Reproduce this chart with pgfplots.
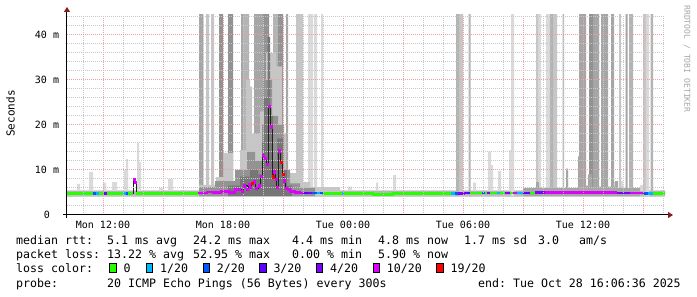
\documentclass[border=0pt]{standalone}
\usepackage{pgfplots}
\pgfplotsset{compat=1.18}
\usepackage{fontspec}
\setmonofont{DejaVu Sans Mono}
\usetikzlibrary{arrows.meta}
\definecolor{majgrid}{HTML}{F0A0A0}
\definecolor{mingrid}{HTML}{C8C8C8}
\definecolor{arrowred}{HTML}{8B1A1A}
\definecolor{ga}{HTML}{DADADA}
\definecolor{gb}{HTML}{C6C6C6}
\definecolor{gc}{HTML}{B4B4B4}
\definecolor{gd}{HTML}{A6A6A6}
\definecolor{ge}{HTML}{939393}
\definecolor{gf}{HTML}{767676}
\definecolor{lc0}{HTML}{26FF00}
\definecolor{lc1}{HTML}{00B8FF}
\definecolor{lc2}{HTML}{0059FF}
\definecolor{lc3}{HTML}{5E00FF}
\definecolor{lc4}{HTML}{7E00FF}
\definecolor{lc10}{HTML}{DD00FF}
\definecolor{lc19}{HTML}{FF0000}
\newcommand{\tickfont}{\ttfamily\fontsize{10}{12}\selectfont}
\newcommand{\lgfont}{\ttfamily\fontsize{11.6}{13}\selectfont}
\begin{document}
\begin{tikzpicture}[x=1pt,y=1pt]
\fill[white] (0,0) rectangle (697,297);
\path[use as bounding box] (0,0) rectangle (697,297);
\begin{axis}[
 at={(67pt,82pt)}, anchor=south west, scale only axis, width=598pt, height=200pt,
 xmin=10.2, xmax=40.1, ymin=0, ymax=44.444,
 axis on top, unbounded coords=jump,
 axis lines*=left,
 axis line style={black, line width=1pt},
 x axis line style={shorten <=-4pt, shorten >=-8pt, -{Triangle[length=5pt,width=6pt,color=arrowred]}},
 y axis line style={shorten <=-3pt, shorten >=-8pt, -{Triangle[length=5pt,width=6pt,color=arrowred]}},
 xtick={12,15,...,39}, xticklabels={Mon 12:00,,Mon 18:00,,Tue 00:00,,Tue 06:00,,Tue 12:00,},
 minor xtick={11,...,40},
 ytick={0,10,20,30,40}, yticklabels={0,10 m,20 m,30 m,40 m},
 minor ytick={2,4,...,44},
 grid=both,
 major grid style={draw=majgrid, dash pattern=on 1pt off 1pt, line width=1pt},
 minor grid style={draw=mingrid, dash pattern=on 1pt off 1pt, line width=1pt},
 major tick length=0pt, minor tick length=0pt,
 xticklabel style={font=\tickfont, anchor=center, yshift=-10pt},
 yticklabel style={font=\tickfont, anchor=center, xshift=-20pt},
]
% light smoke band with spikes
\addplot[const plot, draw=none, fill=ga] coordinates {(10.2,4.2)(10.2,5.6)(10.7,6.9)(10.85,5.6)(11.3,9.6)(11.5,5.6)(12.0,7.2)(12.15,5.6)(12.45,7.3)(12.7,5.6)(13.05,10)(13.15,12.4)(13.25,5.6)(13.7,16)(13.8,11.8)(13.9,5.6)(14.8,6.0)(15.0,5.6)(15.25,8.0)(15.5,5.6)(24.25,6.3)(24.45,5.6)(25.65,7.2)(25.75,5.6)(26.5,8.9)(26.65,5.6)(30.5,7.2)(30.65,5.6)(31.25,14.1)(31.4,11.1)(31.5,5.6)(31.75,9.8)(31.9,5.6)(32.3,14.4)(32.5,5.6)(35.15,10.4)(35.25,5.6)(36.95,10)(37.05,5.6)(37.55,7.3)(37.7,5.6)(37.9,7.6)(38.0,5.6)(38.85,6.7)(39.0,5.6)(40.1,5.6)(40.1,4.2)};
\addplot[const plot, draw=none, fill=gc] coordinates {(10.2,4.3)(10.2,5.3)(40.1,5.3)(40.1,4.3)};
% tall smoke bars
\addplot[const plot, draw=none, fill=ga] coordinates {(10.2,4.2)(22.25,50)(22.5,4.2)(22.55,50)(22.7,4.2)(22.9,50)(23.0,4.2)(32.4,50)(32.55,4.2)(33.75,50)(33.9,4.2)(34.15,50)(34.35,4.2)(39.15,50)(39.3,4.2)(40.1,4.2)};
\addplot[const plot, draw=none, fill=gb] coordinates {(10.2,4.2)(17.15,50)(17.3,4.2)(17.4,50)(17.55,4.2)(21.65,50)(22.0,4.2)(29.8,50)(30.0,4.2)(33.65,50)(33.75,4.2)(34.5,50)(34.7,4.2)(37.8,50)(37.9,4.2)(39.0,50)(39.15,4.2)(40.1,4.2)};
\addplot[const plot, draw=none, fill=gc] coordinates {(10.2,4.2)(19.0,50)(19.3,4.2)(20.5,50)(20.75,4.2)(29.65,50)(29.8,4.2)(30.285,50)(30.385,4.2)(34.35,50)(34.5,4.2)(34.985,50)(35.05,4.2)(38.3,50)(38.5,4.2)(39.385,50)(39.5,4.2)(40.1,4.2)};
\addplot[const plot, draw=none, fill=gd] coordinates {(10.2,4.2)(16.8,50)(17.015,4.2)(18.9,50)(19.0,4.2)(19.55,50)(20.0,4.2)(21.15,50)(21.25,4.2)(35.8,50)(36.15,4.2)(36.5,50)(36.8,4.2)(36.9,50)(37.25,4.2)(37.4,50)(37.55,4.2)(38.135,50)(38.235,4.2)(40.1,4.2)};
\addplot[const plot, draw=none, fill=ge] coordinates {(10.2,4.2)(17.8,50)(18.0,4.2)(18.25,50)(18.5,4.2)(20.0,50)(20.3,4.2)(20.75,50)(21.0,4.2)(36.3,50)(36.5,4.2)(40.1,4.2)};
% darker smoke Tue afternoon
\addplot[const plot, draw=none, fill=gd] coordinates {(33.0,4.2)(33.0,6.0)(33.65,7.3)(33.8,6.0)(35.15,10)(35.25,6.0)(35.75,13)(36.0,6.5)(36.25,9)(36.45,6.3)(36.95,7.8)(37.1,6.3)(37.6,7.5)(37.75,6.0)(38.85,4.2)};
% Monday evening smoke cluster
\addplot[const plot, draw=none, fill=gb] coordinates {(16.8,4.2)(16.8,6.7)(17.65,8.4)(18.0,13.8)(18.5,7.2)(18.85,14.4)(19.15,30)(19.35,28.5)(19.45,18)(19.85,23)(20.15,36)(20.35,36)(20.65,33)(20.95,18)(21.15,9.3)(21.65,7.3)(22.35,6.2)(23.85,4.2)};
\addplot[const plot, draw=none, fill=ge] coordinates {(16.8,4.2)(16.8,6.2)(17.6,7.5)(18.6,10)(19.2,14)(19.6,12)(19.95,20)(20.15,30)(20.45,22)(20.75,20)(21.05,10)(21.35,7)(21.85,6)(22.6,4.2)};
\addplot[const plot, draw=none, fill=gf] coordinates {(18.25,4.2)(18.25,6.5)(18.85,8.5)(19.35,10)(19.75,9)(19.95,16)(20.05,26)(20.225,39.6)(20.35,22)(20.5,12)(20.7,17)(21.0,10)(21.2,6.5)(21.45,4.2)};
% median rtt (thin dark line)
\addplot[const plot, draw={rgb,255:red,32;green,32;blue,32}, line width=0.8pt] coordinates {(10.2,4.8)(11.0,4.85)(12.0,4.8)(13.5,8.0)(13.575,7.2)(13.65,4.8)(15.0,4.75)(16.75,4.9)(17.2,5.1)(17.5,5.0)(17.9,5.3)(18.3,5.0)(18.6,5.6)(18.9,5.2)(19.0,6.5)(19.2,5.8)(19.25,6.8)(19.35,6.2)(19.4,7.0)(19.5,7.4)(19.6,6.0)(19.75,6.5)(19.85,8.7)(19.95,13.3)(20.05,12.7)(20.15,11.3)(20.25,24.2)(20.35,19.6)(20.45,8.5)(20.525,9.6)(20.6,8.0)(20.675,6.2)(20.75,14.3)(20.85,11.7)(20.95,9.1)(21.025,7.6)(21.1,6.0)(21.2,5.6)(21.35,5.2)(21.6,5.0)(21.85,4.9)(23.0,4.8)(25.5,4.6)(26.5,4.7)(29.4,4.8)(30.0,4.9)(34.0,5.0)(37.7,4.9)(39.0,4.8)(40.1,4.8)};
% loss-coloured median band
\addplot[const plot, draw=lc0, line width=2.8pt] coordinates {(10.2,4.8)(11.0,4.85)(12.0,4.8)(13.5,4.8)(13.5,nan)(13.65,4.8)(15.0,4.75)(16.75,4.75)(16.75,nan)(21.85,4.9)(23.0,4.8)(25.5,4.6)(26.5,4.7)(29.4,4.8)(30.0,4.9)(34.0,5.0)(37.7,4.9)(39.0,4.8)(40.1,4.8)};
\addplot[const plot, draw=lc1, line width=2.8pt] coordinates {(11.65,4.85)(11.8,4.85)(11.8,nan)(13.0,4.8)(13.15,4.8)(13.15,nan)(22.7,4.9)(22.85,4.9)(22.85,nan)(23.95,4.8)(24.03,4.8)(24.03,nan)(29.4,4.8)(29.6,4.8)(29.6,nan)(31.7,4.9)(31.85,4.9)(31.85,nan)(32.7,4.9)(33.0,4.9)(33.0,nan)(39.25,4.8)(39.5,4.8)};
\addplot[const plot, draw=lc2, line width=2.8pt] coordinates {(11.5,4.85)(11.65,4.85)(11.65,nan)(13.15,4.8)(13.25,4.8)(13.25,nan)(22.45,4.9)(22.7,4.9)(22.7,nan)(22.85,4.9)(23.0,4.9)(23.0,nan)(29.6,4.8)(29.75,4.8)(29.75,nan)(30.95,4.9)(31.1,4.9)(31.1,nan)(39.0,4.8)(39.25,4.8)};
\addplot[const plot, draw=lc3, line width=2.8pt] coordinates {(12.05,4.8)(12.1,4.8)(12.1,nan)(22.0,4.9)(22.25,4.9)(22.25,nan)(30.1,4.9)(30.35,4.9)(30.35,nan)(33.0,4.9)(33.35,4.9)};
\addplot[const plot, draw=lc4, line width=2.8pt] coordinates {(12.1,4.8)(12.2,4.8)(12.2,nan)(22.25,4.9)(22.45,4.9)(22.45,nan)(29.75,4.85)(30.1,4.85)(30.1,nan)(31.2,4.9)(31.35,4.9)(31.35,nan)(32.1,4.9)(32.35,4.9)(32.35,nan)(33.6,5.0)(34.1,5.0)(34.1,nan)(37.7,4.9)(38.35,4.9)};
\addplot[const plot, draw=lc10, line width=2.8pt] coordinates {(16.75,4.9)(17.2,5.1)(17.5,5.0)(17.9,5.3)(18.3,5.0)(18.6,5.6)(18.9,5.6)(18.9,nan)(21.2,5.6)(21.35,5.2)(21.6,5.0)(21.85,4.9)(22.0,4.9)(22.0,nan)(32.5,4.9)(32.7,4.9)(32.7,nan)(34.1,5.0)(37.7,5.0)(37.7,nan)(38.35,4.9)(39.0,4.9)};
\addplot[only marks, mark=square*, mark size=1.1pt, color=lc10] coordinates {(13.54,8.0)(13.61,7.2)(18.94,5.2)(19.04,6.5)(19.22,5.8)(19.29,6.8)(19.37,6.2)(19.54,7.4)(19.64,6.0)(19.79,6.5)(19.89,8.7)(19.99,13.3)(20.09,12.7)(20.19,11.3)(20.29,24.2)(20.39,19.6)(20.56,9.6)(20.64,8.0)(20.71,6.2)(20.79,14.3)(21.06,7.6)(21.14,6.0)};
\addplot[only marks, mark=square*, mark size=1.1pt, color=lc19] coordinates {(19.44,7.0)(20.49,8.5)(20.89,11.7)(20.99,9.1)};
\end{axis}
% axis title and watermark
\node[rotate=90, font=\ttfamily\fontsize{11}{13}\selectfont] at (10.5,183.5) {Seconds};
\node[rotate=-90, font=\ttfamily\fontsize{8.1}{10}\selectfont, text=black!35] at (687,238) {RRDTOOL / TOBI OETIKER};
% legend
\begin{scope}[every node/.style={anchor=base west, inner sep=0pt, font=\lgfont}]
\node at (16,52.3) {median rtt:};
\node at (107,52.3) {5.1 ms avg};
\node at (193,52.3) {24.2 ms max};
\node at (292,52.3) {4.4 ms min};
\node at (378,52.3) {4.8 ms now};
\node at (464,52.3) {1.7 ms sd};
\node at (538,52.3) {3.0};
\node at (579,52.3) {am/s};
\node at (16,38.1) {packet loss:};
\node at (107,38.1) {13.22 \% avg};
\node at (193,38.1) {52.95 \% max};
\node at (292,38.1) {0.00 \% min};
\node at (378,38.1) {5.90 \% now};
\node at (16,24) {loss color:};
\node at (123.3,24) {0};
\node at (160,24) {1/20};
\node at (216.7,24) {2/20};
\node at (273.3,24) {3/20};
\node at (330,24) {4/20};
\node at (386.7,24) {10/20};
\node at (450.4,24) {19/20};
\node at (16,9.7) {probe:};
\node at (107,9.7) {20 ICMP Echo Pings (56 Bytes) every 300s};
\node at (478,9.7) {end: Tue Oct 28 16:06:36 2025};
\end{scope}
\foreach \xx/\cc in {109.3/lc0,146/lc1,202.7/lc2,259.3/lc3,316/lc4,372.7/lc10,436.4/lc19}
  \draw[black, line width=1pt, fill=\cc] (\xx+0.5,24.2) rectangle (\xx+6.9,33.8);
\end{tikzpicture}
\end{document}
